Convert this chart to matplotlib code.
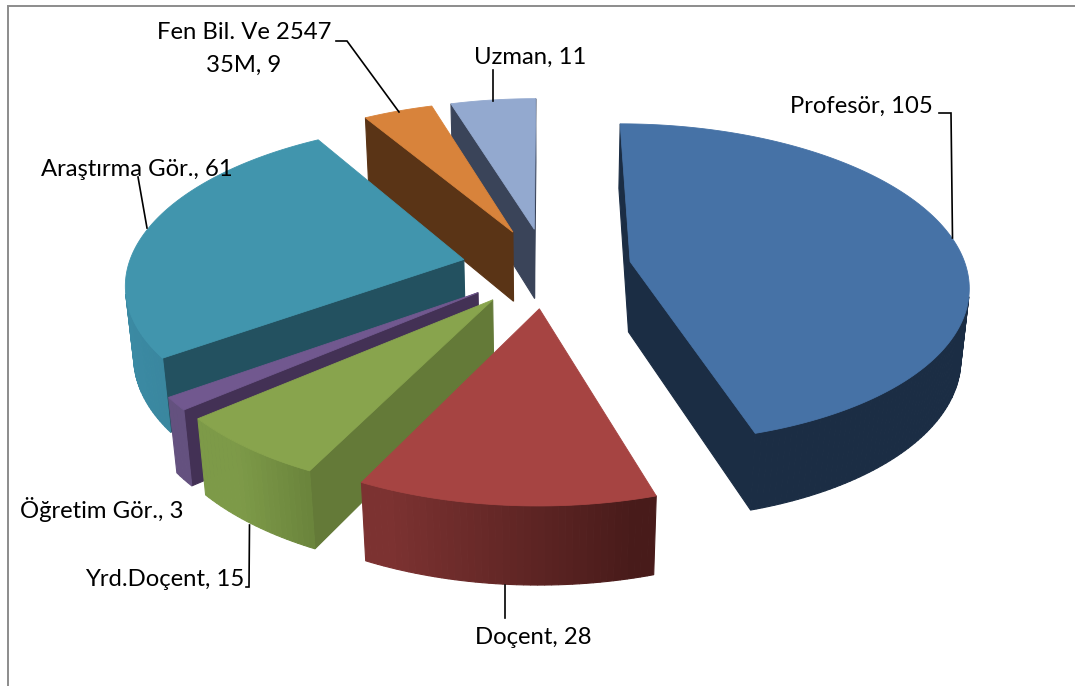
import numpy as np
import matplotlib
matplotlib.use('Agg')
import matplotlib.pyplot as plt
from matplotlib.colors import to_rgb

categories = ['Profesör', 'Doçent', 'Yrd.Doçent', 'Öğretim Gör.', 'Araştırma Gör.', 'Fen Bil. Ve 2547\n35M', 'Uzman']
values = [105, 28, 15, 3, 61, 9, 11]
top_colors = ['#4672a6', '#a64442', '#88a44d', '#71588f', '#4195ad', '#d8833b', '#93a9cf']
cut_colors = ['#1b2d44', '#5c2423', '#647a38', '#433155', '#235160', '#5a3416', '#3a4459']
wall_left = ['#1b2d44', '#7c3231', '#7d9a48', '#64517f', '#3b8aa3', '#8a5020', '#4a5a78']
wall_right = ['#1b2d44', '#481b1a', '#627a36', '#5a4772', '#357a90', '#8a5020', '#4a5a78']
draw_order = [6, 5, 4, 0, 3, 2, 1]

# projection of the tilted pie onto the picture, in pixels
CX, CY = 546.5, 267.5
F, G, H = 336, 158, 72
K, Q = 0.136, 0.02
EXPLODE = 0.253


def project(u, v, z=0.0):
    d = 1 + K * v + Q * z
    return CX + F * u / d, CY + (-G * v + H * z) / d


def mix(a, b, t):
    a, b = np.array(to_rgb(a)), np.array(to_rgb(b))
    return tuple(a + (b - a) * t)


def draw_face(ax, pts, color, zorder):
    xs = [p[0] for p in pts]
    ys = [p[1] for p in pts]
    area = sum(xs[i] * ys[(i + 1) % len(pts)] - xs[(i + 1) % len(pts)] * ys[i] for i in range(len(pts)))
    if area < 0:
        ax.fill(xs, ys, color=color, lw=0.8, zorder=zorder)


fig = plt.figure(figsize=(10.75, 6.86), dpi=100)
ax = fig.add_axes([0, 0, 1, 1])
ax.set_xlim(0, 1075)
ax.set_ylim(686, 0)
ax.axis('off')

edges = np.cumsum([0] + values) / sum(values) * 2 * np.pi

z = 2
for i in draw_order:
    a, b = edges[i], edges[i + 1]
    mid = (a + b) / 2
    ou, ov = EXPLODE * np.sin(mid), EXPLODE * np.cos(mid)
    th = np.linspace(a, b, max(int(np.degrees(b - a)), 4) + 1)
    us = ou + np.sin(th)
    vs = ov + np.cos(th)

    # cut faces, then the outer wall, then the top
    draw_face(ax, [project(ou, ov), project(us[0], vs[0]), project(us[0], vs[0], 1), project(ou, ov, 1)], cut_colors[i], z)
    draw_face(ax, [project(us[-1], vs[-1]), project(ou, ov), project(ou, ov, 1), project(us[-1], vs[-1], 1)], cut_colors[i], z)
    z += 1
    for j in range(len(th) - 1):
        # wall colour runs left to right across the picture
        t = np.clip((project(us[j], vs[j])[0] - project(us.min(), 0)[0]) / max(np.ptp(us) * F, 1), 0, 1)
        draw_face(ax, [project(us[j], vs[j]), project(us[j + 1], vs[j + 1]),
                       project(us[j + 1], vs[j + 1], 1), project(us[j], vs[j], 1)],
                  mix(wall_left[i], wall_right[i], t), z)
    z += 1
    top = [project(ou, ov)] + [project(u, v) for u, v in zip(us, vs)]
    ax.fill([p[0] for p in top], [p[1] for p in top], color=top_colors[i], lw=0.6, zorder=z)
    z += 1

# chart frame, open at the right and bottom
ax.plot([7.5, 7.5, 1075], [686, 5.5, 5.5], color='#8c8c8c', lw=1.4, zorder=z, solid_joinstyle='miter')

# leader lines
leaders = [
    ([939, 951, 952.5], [113, 113, 238]),
    ([336, 347, 399], [41, 41, 112]),
    ([492.5, 492.5], [70, 101]),
    ([138, 147], [177, 228]),
    ([249.5, 249, 246], [525, 587, 587]),
    ([505, 505], [585, 618]),
]
for lx, ly in leaders:
    ax.plot(lx, ly, color='black', lw=1.2, zorder=z + 1, solid_joinstyle='miter')

# labels
label_pos = [(861, 106), (533, 638), (165, 580), (102, 510), (137, 170), (244, 49), (530, 57)]
for name, val, (x, y) in zip(categories, values, label_pos):
    ax.text(x, y, f'{name}, {val}', ha='center', va='center', fontsize=17.2, family='Lato',
            color='black', zorder=z + 2, linespacing=1.7)

fig.savefig('out.png', dpi=100)
